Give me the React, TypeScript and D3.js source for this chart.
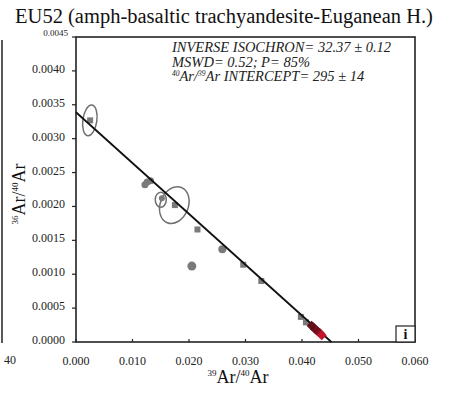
import React from "react";
import * as d3 from "d3";

const xTicks = [0, 0.01, 0.02, 0.03, 0.04, 0.05, 0.06];
const yTicks = [0, 0.0005, 0.001, 0.0015, 0.002, 0.0025, 0.003, 0.0035, 0.004, 0.0045];

// gray steps
const grayX = [0.0025, 0.0122, 0.0126, 0.0132, 0.0152, 0.0175, 0.0215, 0.0205, 0.0259, 0.0296, 0.0328, 0.0398, 0.0407];
const grayY = [0.00327, 0.00232, 0.00236, 0.00238, 0.00212, 0.00202, 0.00166, 0.00112, 0.00137, 0.00114, 0.00090, 0.00037, 0.00029];
const grayShape = ["sq", "c", "c", "c", "c", "sq", "sq", "c", "c", "sq", "sq", "sq", "sq"];
const graySize = [3, 3.5, 3.5, 3.5, 3, 3, 3, 4.5, 4, 3, 3, 3, 3];

const redX = [0.0417, 0.0420, 0.0423, 0.0426, 0.0429, 0.0432, 0.0435];
const redY = [0.00024, 0.00022, 0.00019, 0.00017, 0.00015, 0.00013, 0.00010];
const redColor = ["#5a1018", "#6a0e1c", "#5a1018", "#7a0f20", "#6a0e1c", "#8a1024", "#c4142c"];

// error ellipses
const ellX = [0.00245, 0.0150, 0.0174];
const ellY = [0.00327, 0.00210, 0.00202];
const ellRx = [7, 5.5, 14];
const ellRy = [15.5, 7.5, 19];
const ellRot = [8, 0, 22];

const intercept = 1 / 295;
const xIntercept = 0.0452;

export default function App() {
  const W = 450, H = 393;
  const left = 76, right = 415, top = 37, bottom = 342;
  const x = d3.scaleLinear().domain([0, 0.06]).range([left, right]);
  const y = d3.scaleLinear().domain([0, 0.0045]).range([bottom, top]);
  const serif = "'Liberation Serif', 'DejaVu Serif', serif";

  return (
    <svg width={W} height={H} style={{ position: "absolute", left: 0, top: 0, background: "#fff", fontFamily: serif }}>
      <rect x={0} y={0} width={W} height={H} fill="#fff" />
      <line x1={2} x2={2} y1={40} y2={343} stroke="#222" strokeWidth={1.5} />
      <text x={4} y={364} fontSize={12} fill="#222" style={{ fontFamily: serif }}>40</text>

      <text x={224} y={23} textAnchor="middle" fontSize={20.5} fill="#111" style={{ fontFamily: serif }}>
        EU52 (amph-basaltic trachyandesite-Euganean H.)
      </text>

      <rect x={left} y={top} width={right - left} height={bottom - top} fill="none" stroke="#222" strokeWidth={1.6} />

      {yTicks.map((t, i) => {
        const last = i === yTicks.length - 1;
        return (
          <g key={"y" + i}>
            <line x1={left - 4} x2={left} y1={y(t)} y2={y(t)} stroke="#222" strokeWidth={1.2} />
            <text x={left - (last ? 8 : 11)} y={last ? y(t) - 1 : y(t) + 2} textAnchor="end"
              fontSize={last ? 9 : 12} fill="#222" style={{ fontFamily: serif }}>
              {t.toFixed(4)}
            </text>
          </g>
        );
      })}
      {xTicks.map((t, i) => (
        <g key={"x" + i}>
          <line x1={x(t)} x2={x(t)} y1={bottom} y2={bottom - 3} stroke="#222" strokeWidth={1.2} />
          <text x={x(t)} y={bottom + 23} textAnchor="middle" fontSize={12} fill="#222" style={{ fontFamily: serif }}>
            {t.toFixed(3)}
          </text>
        </g>
      ))}

      <text x={238} y={383} textAnchor="middle" fontSize={18} fill="#111" style={{ fontFamily: serif }}>
        <tspan fontSize={9} dy={-7}>39</tspan>
        <tspan dy={7}>Ar/</tspan>
        <tspan fontSize={9} dy={-7}>40</tspan>
        <tspan dy={7}>Ar</tspan>
      </text>
      <text transform={`translate(25,194) rotate(-90)`} textAnchor="middle" fontSize={18} fill="#111" style={{ fontFamily: serif }}>
        <tspan fontSize={9} dy={-7}>36</tspan>
        <tspan dy={7}>Ar/</tspan>
        <tspan fontSize={9} dy={-7}>40</tspan>
        <tspan dy={7}>Ar</tspan>
      </text>

      <g fontStyle="italic" fontSize={14.5} fill="#222" style={{ fontFamily: serif }}>
        <text x={172} y={52}>INVERSE ISOCHRON= 32.37 ± 0.12</text>
        <text x={172} y={66.5}>MSWD= 0.52; P= 85%</text>
        <text x={172} y={81}>
          <tspan fontSize={7.5} dy={-5}>40</tspan>
          <tspan dy={5}>Ar/</tspan>
          <tspan fontSize={7.5} dy={-5}>39</tspan>
          <tspan dy={5}>Ar INTERCEPT= 295 ± 14</tspan>
        </text>
      </g>

      {ellX.map((v, i) => (
        <ellipse key={"e" + i} cx={0} cy={0} rx={ellRx[i]} ry={ellRy[i]}
          transform={`translate(${x(v)},${y(ellY[i])}) rotate(${ellRot[i]})`}
          fill="none" stroke="#707070" strokeWidth={1.5} />
      ))}

      {grayX.map((v, i) =>
        grayShape[i] === "sq" ? (
          <rect key={"g" + i} x={x(v) - graySize[i]} y={y(grayY[i]) - graySize[i]}
            width={graySize[i] * 2} height={graySize[i] * 2} fill="#7a7a7a" />
        ) : (
          <circle key={"g" + i} cx={x(v)} cy={y(grayY[i])} r={graySize[i]} fill="#7a7a7a" />
        )
      )}

      <line x1={x(0)} y1={y(intercept)} x2={x(xIntercept)} y2={y(0)} stroke="#111" strokeWidth={1.8} />

      {redX.map((v, i) => (
        <rect key={"r" + i} x={x(v) - 3.5} y={y(redY[i]) - 3.5} width={7} height={7}
          transform={`rotate(45 ${x(v)} ${y(redY[i])})`} fill={redColor[i]} />
      ))}

      <rect x={396} y={326} width={19} height={16} fill="#fff" stroke="#222" strokeWidth={1.2} />
      <text x={405.5} y={339} textAnchor="middle" fontSize={14} fontWeight="bold" fill="#111" style={{ fontFamily: serif }}>i</text>
    </svg>
  );
}
